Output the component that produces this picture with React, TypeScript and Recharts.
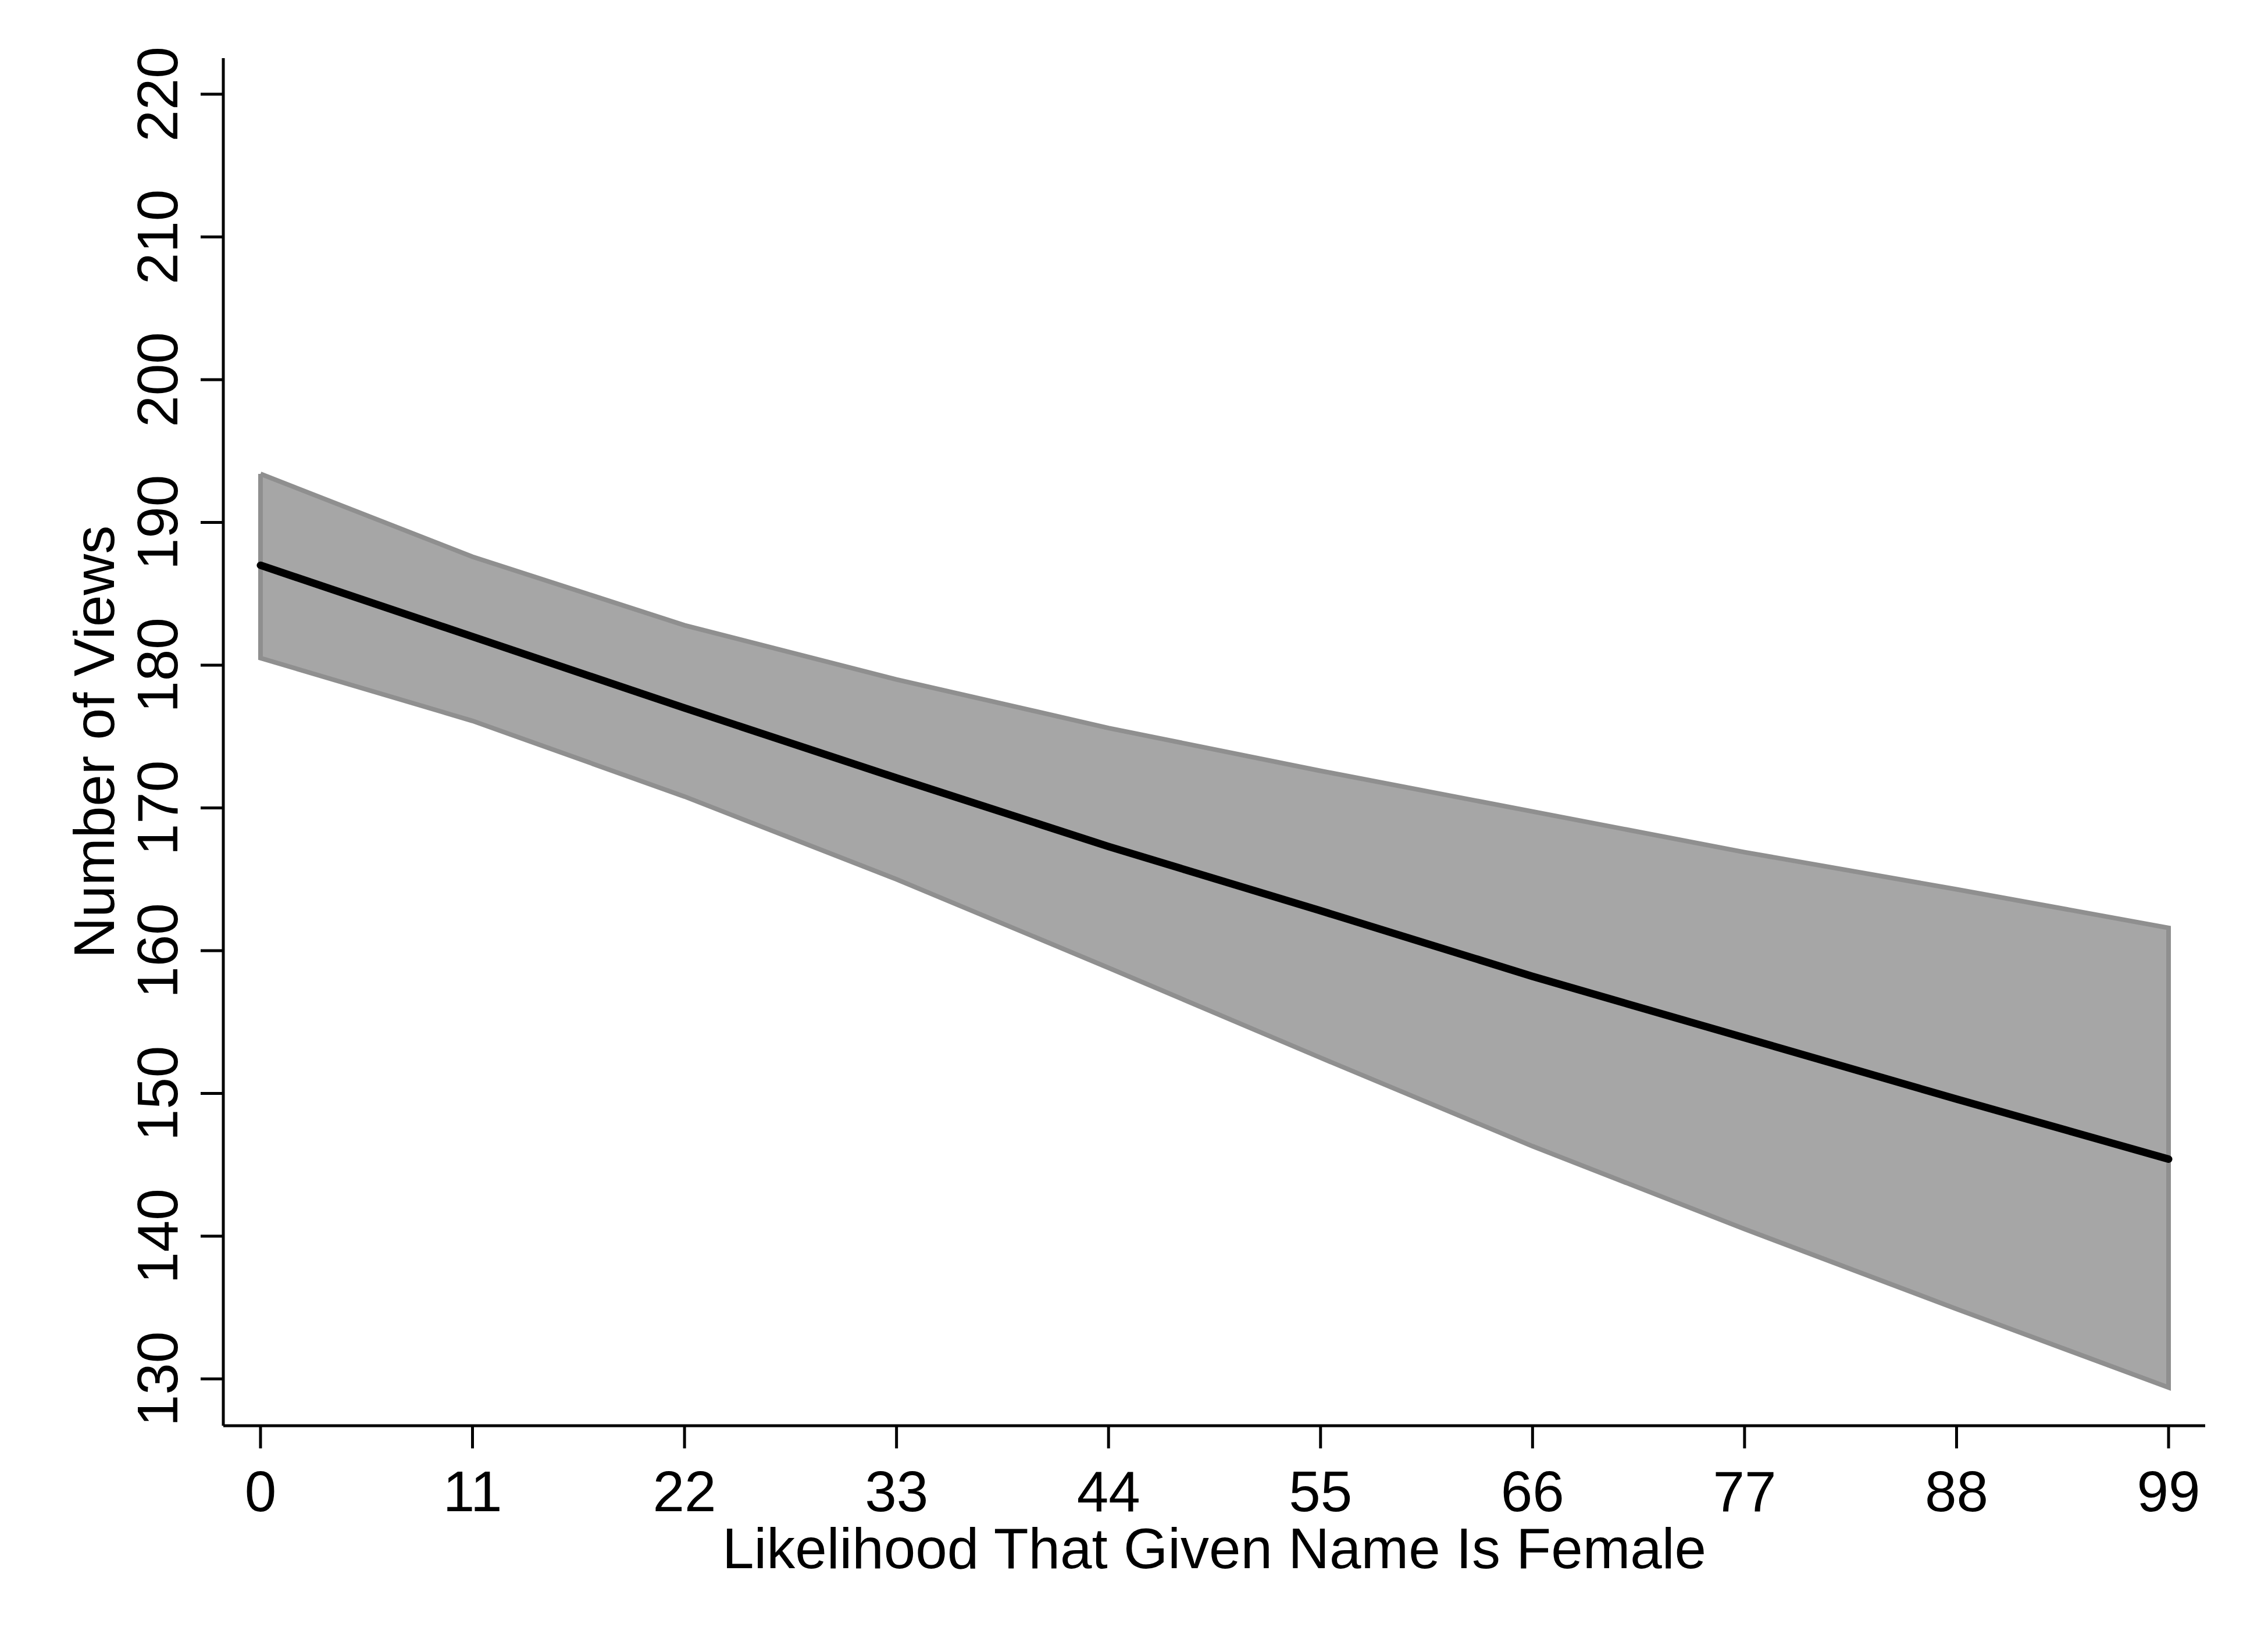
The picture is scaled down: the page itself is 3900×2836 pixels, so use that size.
import { Area, ComposedChart, Line, XAxis, YAxis } from "recharts";

const likelihood = [0, 11, 22, 33, 44, 55, 66, 77, 88, 99];
const predictedViews = [187.0, 182.0, 177.0, 172.1, 167.3, 162.8, 158.2, 153.9, 149.6, 145.4];
const upperCI = [193.4, 187.6, 182.8, 179.0, 175.6, 172.6, 169.75, 166.9, 164.3, 161.6];
const lowerCI = [180.5, 176.1, 170.8, 165.0, 158.8, 152.5, 146.3, 140.5, 134.9, 129.4];

const xTicks = [0, 11, 22, 33, 44, 55, 66, 77, 88, 99];
const yTicks = [130, 140, 150, 160, 170, 180, 190, 200, 210, 220];

const FONT = "'Liberation Sans', Arial, Helvetica, sans-serif";
const BAND_FILL = "#a6a6a6";
const BAND_EDGE = "#8f8f8f";

const rows = likelihood.map((x, i) => ({
  x,
  fit: predictedViews[i],
  band: [lowerCI[i], upperCI[i]],
}));

// closed outline around the CI band: along the top, down the right edge,
// back along the bottom and up the left edge
const outline = [
  ...likelihood.map((x, i) => ({ x, edge: upperCI[i] })),
  ...likelihood.map((x, i) => ({ x, edge: lowerCI[i] })).reverse(),
  { x: likelihood[0], edge: upperCI[0] },
];

function YTick({ x, y, payload }: any) {
  return (
    <text
      x={x}
      y={y}
      transform={`rotate(-90 ${x} ${y})`}
      textAnchor="middle"
      fontSize={98}
      fontFamily={FONT}
      fill="#000"
    >
      {payload.value}
    </text>
  );
}

export default function App() {
  return (
    <div style={{ position: "absolute", left: 0, top: 0, width: 3900, height: 2836, background: "#fff" }}>
      <ComposedChart
        width={3900}
        height={2836}
        data={rows}
        margin={{ top: 100, right: 108, bottom: 84, left: 84 }}
      >
        <XAxis
          dataKey="x"
          type="number"
          domain={[-1.93, 100.9]}
          allowDataOverflow
          ticks={xTicks}
          interval={0}
          height={300}
          tickSize={39}
          tickMargin={38}
          axisLine={{ stroke: "#000", strokeWidth: 5 }}
          tickLine={{ stroke: "#000", strokeWidth: 5 }}
          tick={{ fontSize: 98, fill: "#000", fontFamily: FONT }}
          label={{
            value: "Likelihood That Given Name Is Female",
            position: "insideBottom",
            offset: 55,
            fontSize: 98,
            fill: "#000",
            fontFamily: FONT,
          }}
        />
        <YAxis
          type="number"
          domain={[126.72, 222.53]}
          allowDataOverflow
          ticks={yTicks}
          interval={0}
          width={300}
          tickSize={39}
          tickMargin={40}
          axisLine={{ stroke: "#000", strokeWidth: 5 }}
          tickLine={{ stroke: "#000", strokeWidth: 5 }}
          tick={<YTick />}
          label={{
            value: "Number of Views",
            angle: -90,
            position: "insideLeft",
            offset: 77,
            fontSize: 98,
            fill: "#000",
            fontFamily: FONT,
            style: { textAnchor: "middle" },
          }}
        />
        <Area
          type="linear"
          dataKey="band"
          stroke="none"
          fill={BAND_FILL}
          fillOpacity={1}
          isAnimationActive={false}
          activeDot={false}
        />
        <Line
          data={outline}
          type="linear"
          dataKey="edge"
          stroke={BAND_EDGE}
          strokeWidth={8}
          strokeLinejoin="miter"
          dot={false}
          activeDot={false}
          isAnimationActive={false}
        />
        <Line
          type="linear"
          dataKey="fit"
          stroke="#000"
          strokeWidth={13}
          strokeLinecap="round"
          dot={false}
          activeDot={false}
          isAnimationActive={false}
        />
      </ComposedChart>
    </div>
  );
}
